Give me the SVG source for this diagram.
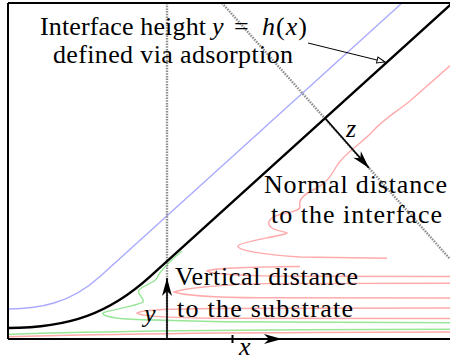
<svg xmlns="http://www.w3.org/2000/svg" width="450" height="360" viewBox="0 0 450 360">
<style>
text{font-family:'Liberation Serif','DejaVu Serif','Times New Roman',serif;font-size:26px;fill:#000}
.m{font-style:italic}
.red{fill:none;stroke:#ffaaaa;stroke-width:1.4}
.grn{fill:none;stroke:#99e699;stroke-width:1.4}
.blu{fill:none;stroke:#aaaaff;stroke-width:1.4}
.dot{fill:none;stroke:#8c8c8c;stroke-width:2.4;stroke-dasharray:1.5 1.2}
.frm{fill:none;stroke:#000;stroke-width:2}
.arr{fill:none;stroke:#000;stroke-width:1.6}
</style>
<defs>
<marker id="st" markerUnits="userSpaceOnUse" viewBox="-19 -6 20 12" markerWidth="20" markerHeight="12" refX="0" refY="0" orient="auto">
<path d="M0,0 L-18,-5 L-13,0 L-18,5 Z" fill="#000"/>
</marker>
<marker id="op" markerUnits="userSpaceOnUse" viewBox="-10 -5 11 10" markerWidth="11" markerHeight="10" refX="0" refY="0" orient="auto">
<path d="M0,0 L-8,-3 L-8,3 Z" fill="#fff" stroke="#000" stroke-width="1"/>
</marker>
</defs>
<rect width="450" height="360" fill="#fff"/>

<g id="profiles">
<path class="red" d="M8,336.7 C120,333.5 300,332.2 452,332"/>
<path class="red" d="M452,318.5 L215,318.2 C160,317.8 140,315.5 137,313 C140,310.5 160,308.8 215,308.5 L452,308"/>
<path class="red" d="M452,298 L260,297.8 C200,297.4 180,294 174,292 C182,289 210,285 260,283.6 L452,283.3"/>
<path class="red" d="M452,276.5 L280,276.2 C230,275.8 210,273 207,271 C212,268.5 240,267 300,266.5"/>
<path class="red" d="M452,64 L410,101 C395,113 385,118 372,132 C360,145 345,152 336,167 C330,178 325,184 313,190 C303,195 298,200 300,206 C301,211 290,212 282,214 C268,217 266,224 272,228 C278,232 292,232 285,234 C270,238 240,242 238,246 C237,251 270,255 300,257 L387,258.3"/>
<path class="grn" d="M8,334.5 C100,331 300,329.5 452,329.3"/>
<path class="grn" d="M452,322.7 L225,321.7 C160,320.5 125,319.5 116,318 C106,316.5 100,314 104,312.5 C115,309 140,305 143,302 C145,298 136,294 139,290 C143,285 155,283 157,278 C159,273 168,262 182,251"/>
<path class="blu" d="M8,309 C40,308.5 70,303.6 100,276.4 L402,3"/>
</g>

<g id="guides">
<path class="dot" d="M167,3 V339"/>
<path class="dot" d="M222,3 L450,259"/>
</g>

<g id="frame">
<path class="frm" d="M8,3 H450 M8,3 V339 M8,339 H450"/>
<path class="frm" d="M232.5,335 V343" stroke-width="1.2"/>
</g>

<g id="interface">
<path d="M8,328 C70,328 110,312.9 150,276.7 L453,2.5" fill="none" stroke="#000" stroke-width="2.4"/>
</g>

<g id="connectors">
<path class="arr" d="M325,118 L369,168" marker-end="url(#st)"/>
<path class="arr" d="M167,339 L167,278" marker-end="url(#st)"/>
<path class="arr" d="M232,339 L282,339" marker-end="url(#st)"/>
<path d="M308,43 L385,62" fill="none" stroke="#000" stroke-width="1" marker-end="url(#op)"/>
</g>

<g id="labels" font-family="'Liberation Serif', 'DejaVu Serif', serif">
<text x="40" y="35" textLength="166" lengthAdjust="spacing">Interface height</text>
<text class="m" x="212" y="35">y</text>
<text x="234" y="35">=</text>
<text x="262" y="35" textLength="45" lengthAdjust="spacing"><tspan class="m">h</tspan>(<tspan class="m">x</tspan>)</text>
<text x="53" y="63" textLength="240" lengthAdjust="spacing">defined via adsorption</text>
<text x="264" y="193" textLength="183" lengthAdjust="spacing">Normal distance</text>
<text x="271" y="223" textLength="171" lengthAdjust="spacing">to the interface</text>
<text x="175" y="285" textLength="183" lengthAdjust="spacing">Vertical distance</text>
<text x="177" y="316.5" textLength="176" lengthAdjust="spacing">to the substrate</text>
<text class="m" x="346" y="137">z</text>
<text class="m" x="144" y="322">y</text>
<text class="m" x="239" y="355">x</text>
</g>
</svg>
